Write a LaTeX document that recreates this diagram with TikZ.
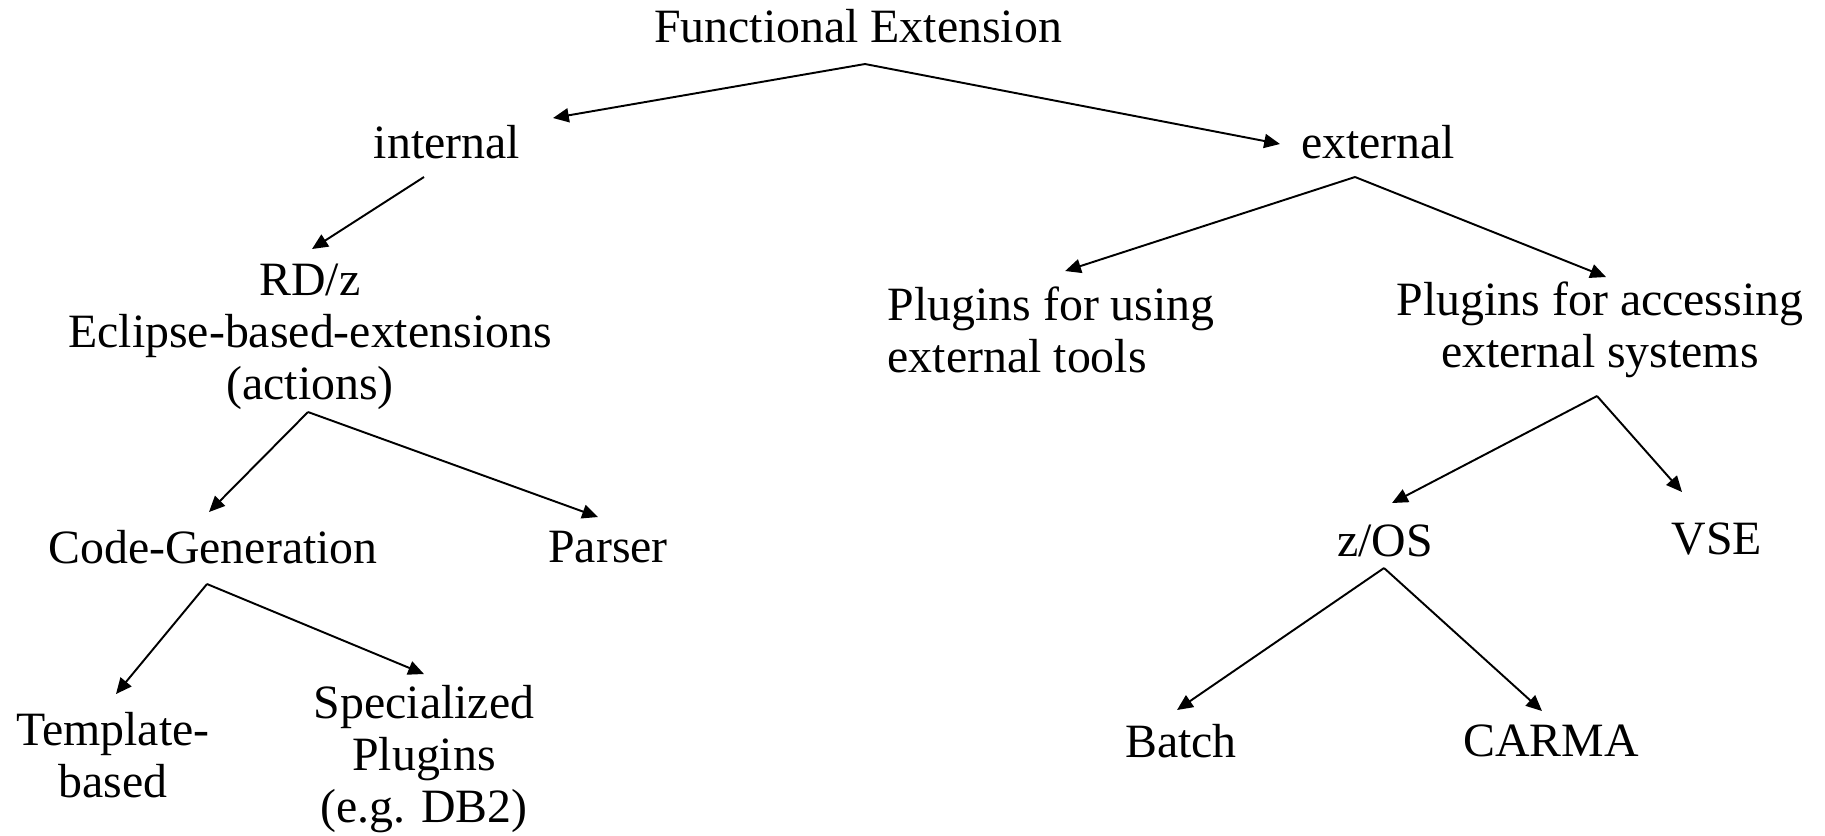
\documentclass[tikz,border=0pt]{standalone}
\usepackage{fontspec}
\setmainfont{Liberation Serif}
\usetikzlibrary{calc,positioning,arrows.meta}

\begin{document}
\begin{tikzpicture}[x=0.01cm,y=-0.01cm,
    txt/.style={inner sep=0pt,align=center,font=\fontsize{13.6pt}{14.8pt}\selectfont},
    arr/.style={-{Triangle[length=4.5pt,width=4pt]},line width=0.55pt}]

  \useasboundingbox (0,0) rectangle (1825,835);

  %% top level
  \node (functional) [txt] at(858,26) {Functional Extension};
  \node (internal) [txt] at(447,142) {internal};
  \node (external) [txt] at(1378,142) {external};

  %% internal branch
  \node (rdz) [txt] at(310,337) {RD/z\\Eclipse-based-extensions\\(actions)};
  \node (codegen) [txt] at(213,547) {Code-Generation};
  \node (parser) [txt] at(608,547) {Parser};
  \node (template) [txt] at(113,755) {Template-\\based};
  \node (specialized) [txt] at(424,759) {Specialized\\Plugins\\(e.g. DB2)};

  %% external branch
  \node (using_tools) [txt,align=left,anchor=west] at(887,330) {Plugins for using\\external tools};
  \node (accessing) [txt] at(1600,330) {Plugins for accessing\\external systems};
  \node (zos) [txt] at(1385,541) {z/OS};
  \node (vse) [txt] at(1717,539) {VSE};
  \node (batch) [txt] at(1181,741) {Batch};
  \node (carma) [txt] at(1551,741) {CARMA};

  \draw[arr] ($(functional)+(7,38)$) -- ($(internal)+(106,-24)$);
  \draw[arr] ($(functional)+(7,38)$) -- ($(external)+(-98,2)$);

  \draw[arr] ($(internal)+(-23,35)$) -- ($(rdz)+(2,-88)$);
  \draw[arr] ($(rdz)+(-2,75)$) -- ($(codegen)+(-4,-35)$);
  \draw[arr] ($(rdz)+(-2,75)$) -- ($(parser)+(-10,-30)$);
  \draw[arr] ($(codegen)+(-6,37)$) -- ($(template)+(3,-61)$);
  \draw[arr] ($(codegen)+(-6,37)$) -- ($(specialized)+(0,-85)$);

  \draw[arr] ($(external)+(-23,35)$) -- ($(using_tools.center)+(14,-59)$);
  \draw[arr] ($(external)+(-23,35)$) -- ($(accessing)+(6,-53)$);
  \draw[arr] ($(accessing)+(-3,66)$) -- ($(zos)+(7,-38)$);
  \draw[arr] ($(accessing)+(-3,66)$) -- ($(vse)+(-35,-47)$);
  \draw[arr] ($(zos)+(-1,27)$) -- ($(batch)+(-4,-31)$);
  \draw[arr] ($(zos)+(-1,27)$) -- ($(carma)+(-9,-30)$);

\end{tikzpicture}
\end{document}
